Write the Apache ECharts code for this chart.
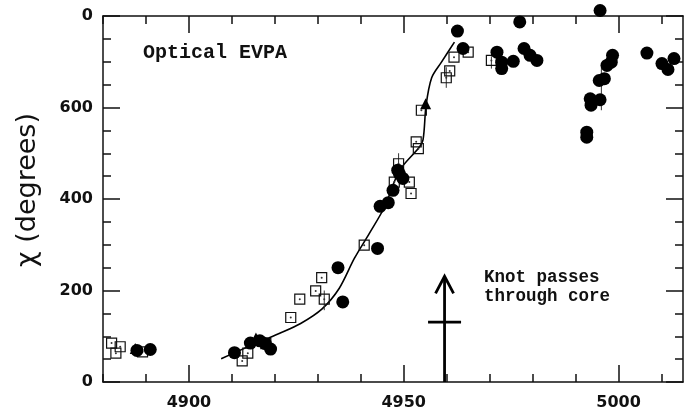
<!DOCTYPE html>
<html>
<head>
<meta charset="utf-8">
<script src="https://cdn.jsdelivr.net/npm/echarts@6/dist/echarts.min.js"></script>
<style>
  html, body { margin: 0; padding: 0; background: #fff; }
  #chart { width: 685px; height: 412px; }
</style>
</head>
<body>
<div id="chart"></div>
<script>
// Optical EVPA (chi, degrees) against epoch (JD - 2440000)
const circles = [
  [4887.9, 69], [4891.0, 71],
  [4910.6, 64], [4914.3, 85], [4916.5, 90], [4917.8, 84], [4919.0, 72],
  [4934.7, 250], [4935.8, 175], [4943.9, 292],
  [4944.5, 384], [4946.4, 392], [4947.5, 419], [4948.6, 463], [4949.0, 455], [4949.8, 445],
  [4962.5, 767], [4963.8, 729],
  [4971.7, 721], [4972.8, 699], [4972.8, 685], [4975.5, 701],
  [4977.0, 787], [4978.0, 729], [4979.4, 714], [4981.0, 703],
  [4992.6, 546], [4992.6, 535], [4993.4, 619], [4993.6, 605],
  [4995.7, 617], [4995.5, 659], [4996.7, 663], [4997.3, 692], [4998.3, 699], [4998.6, 714],
  [4995.7, 812],
  [5006.6, 719], [5010.1, 696], [5011.5, 683], [5012.9, 707]
];
const squares = [
  [4882.0, 85], [4883.0, 63], [4884.0, 77], [4889.2, 66],
  [4912.4, 46], [4913.7, 63], [4917.9, 84],
  [4923.7, 141], [4925.8, 181], [4929.5, 199], [4930.9, 228], [4931.5, 181],
  [4940.8, 299],
  [4947.8, 437], [4948.8, 477], [4951.3, 437], [4951.7, 412],
  [4952.9, 525], [4953.4, 510], [4954.1, 594],
  [4959.9, 665], [4960.7, 680], [4961.7, 710], [4965.0, 721], [4970.4, 703]
];
const triangles = [
  [4887.5, 73], [4915.6, 96], [4955.1, 608]
];
// [epoch, low, high]
const errorBars = [
  [4931.5, 157, 200], [4948.8, 462, 500], [4959.9, 643, 688],
  [4970.4, 685, 712], [4996.0, 594, 686]
];
const fitCurve = [
  [4907.5, 51], [4914, 78], [4921, 106], [4926, 128], [4931, 160], [4935, 205],
  [4938.5, 270], [4942, 325], [4945.5, 382], [4949, 462], [4953.5, 512], [4954.5, 530],
  [4955.2, 605], [4956.5, 665], [4958.7, 698], [4961.8, 743]
];
// [epoch, base, arrow tip, crossbar]
const knotArrow = [[4959.5, 0, 231, 131]];

const xMajorTicks = [4900, 4950, 5000];
const xMinorTicks = [4880, 4890, 4900, 4910, 4920, 4930, 4940, 4950, 4960, 4970, 4980, 4990, 5000, 5010];
const yTickLabels = ['0', '200', '400', '600', '0'];

const INK = '#111';
const tickFont = { fontFamily: 'DejaVu Sans', fontWeight: 'bold', fontSize: 16, color: INK };
const axisLine = { show: true, lineStyle: { color: INK, width: 1.5 } };

function xAxisPair(position) {
  return [
    {
      type: 'value', position, min: 4880, max: 5015, interval: 10,
      axisLine,
      axisTick: { show: true, inside: true, length: 17, customValues: xMajorTicks, lineStyle: { color: INK, width: 1.5 } },
      axisLabel: position === 'bottom'
        ? Object.assign({ show: true, margin: 13, customValues: xMajorTicks,
            formatter: v => (v % 50 === 0 ? String(v) : '') }, tickFont)
        : { show: false },
      splitLine: { show: false }
    },
    {
      type: 'value', position, min: 4880, max: 5015, interval: 10,
      axisLine: { show: false },
      axisTick: { show: true, inside: true, length: 8, customValues: xMinorTicks, lineStyle: { color: INK, width: 1.5 } },
      axisLabel: { show: false },
      splitLine: { show: false }
    }
  ];
}

function yAxisDef(position) {
  return {
    type: 'value', position, min: 0, max: 800, interval: 200,
    axisLine,
    axisTick: { show: true, inside: true, length: 17, lineStyle: { color: INK, width: 1.5 } },
    minorTick: { show: true, splitNumber: 4, length: 8, lineStyle: { color: INK, width: 1.5 } },
    axisLabel: position === 'left'
      ? Object.assign({ show: true, margin: 10, formatter: (v, i) => yTickLabels[i] }, tickFont)
      : { show: false },
    splitLine: { show: false },
    minorSplitLine: { show: false }
  };
}

const chart = echarts.init(document.getElementById('chart'), null, { renderer: 'canvas' });
chart.setOption({
  animation: false,
  backgroundColor: '#fff',
  grid: { left: 103, right: 2, top: 16, bottom: 30 },
  xAxis: [...xAxisPair('bottom'), ...xAxisPair('top')],
  yAxis: [
    Object.assign(yAxisDef('left'), {
      name: 'χ (degrees)', nameLocation: 'middle', nameGap: 62,
      nameTextStyle: { fontFamily: 'DejaVu Sans', fontSize: 27, color: INK, padding: [0, 0, 0, 18] }
    }),
    yAxisDef('right')
  ],
  graphic: [
    { type: 'text', left: 143, top: 43,
      style: { text: 'Optical EVPA', fontFamily: 'Liberation Mono', fontWeight: 'bold', fontSize: 20, fill: INK } },
    { type: 'text', left: 484, top: 268,
      style: { text: 'Knot passes\nthrough core', fontFamily: 'Liberation Mono', fontWeight: 'bold', fontSize: 17.5, lineHeight: 19, fill: INK } }
  ],
  series: [
    {
      type: 'line', data: fitCurve, smooth: 0.3, showSymbol: false, z: 2,
      lineStyle: { color: '#000', width: 1.6 }
    },
    {
      type: 'custom', data: errorBars, z: 3,
      encode: { x: 0, y: [1, 2] },
      renderItem(params, api) {
        const x = api.value(0);
        const lo = api.coord([x, api.value(1)]);
        const hi = api.coord([x, api.value(2)]);
        return { type: 'line', shape: { x1: lo[0], y1: lo[1], x2: hi[0], y2: hi[1] },
                 style: { stroke: '#333', lineWidth: 1 } };
      }
    },
    {
      type: 'scatter', data: squares, symbol: 'rect', symbolSize: 10, z: 4,
      itemStyle: { color: 'rgba(255,255,255,0)', borderColor: '#111', borderWidth: 1.2, opacity: 1 }
    },
    {
      type: 'scatter', data: squares, symbol: 'circle', symbolSize: 2, z: 4,
      itemStyle: { color: '#333', opacity: 1 }
    },
    {
      type: 'scatter', data: triangles, symbol: 'triangle', symbolSize: 11, z: 5,
      itemStyle: { color: '#000', opacity: 1 }
    },
    {
      type: 'scatter', data: circles, symbol: 'circle', symbolSize: 13, z: 6, clip: false,
      itemStyle: { color: '#000', opacity: 1 }
    },
    {
      type: 'custom', data: knotArrow, z: 7, clip: false,
      encode: { x: 0, y: [1, 2] },
      renderItem(params, api) {
        const x = api.value(0);
        const base = api.coord([x, api.value(1)]);
        const tip = api.coord([x, api.value(2)]);
        const bar = api.coord([x, api.value(3)]);
        const s = { stroke: '#000', lineWidth: 2.8, fill: null };
        return {
          type: 'group',
          children: [
            { type: 'line', shape: { x1: base[0], y1: base[1], x2: tip[0], y2: tip[1] }, style: s },
            { type: 'polyline', shape: { points: [[tip[0] - 9, tip[1] + 17], [tip[0], tip[1]], [tip[0] + 9, tip[1] + 17]] }, style: s },
            { type: 'line', shape: { x1: bar[0] - 16.5, y1: bar[1], x2: bar[0] + 16.5, y2: bar[1] }, style: s }
          ]
        };
      }
    }
  ]
});
</script>
</body>
</html>
